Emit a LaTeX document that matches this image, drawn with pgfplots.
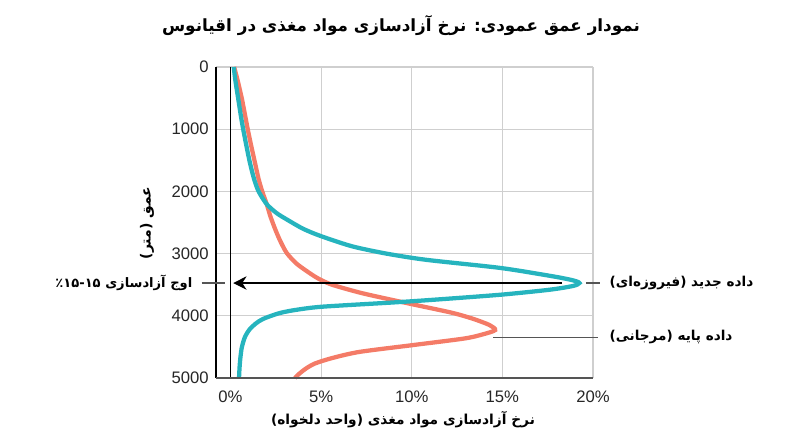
\documentclass[border=0pt]{standalone}
\usepackage{fontspec}
\setmainfont{Liberation Sans}
\newfontfamily\fa[Script=Arabic]{DejaVu Sans}
\usepackage{pgfplots}
\pgfplotsset{compat=1.18}
\usetikzlibrary{arrows.meta}
\TeXXeTstate=1
\definecolor{tealc}{HTML}{26B4BE}
\definecolor{coral}{HTML}{F47B67}
\definecolor{gridc}{HTML}{CFCFCF}
\definecolor{axc}{HTML}{555555}

\pgfplotstableread{
d x
0 0.18
200 0.26
500 0.42
800 0.58
1000 0.70
1300 0.90
1550 1.08
1800 1.30
2000 1.55
2206 2.0
2350 2.55
2450 3.1
2600 4.0
2720 5.0
2882 6.7
3000 8.6
3100 10.8
3231 14.9
3366 17.8
3430 18.9
3473 19.25
3520 18.9
3581 17.6
3661 14.9
3742 11.2
3785 9.0
3855 5.0
3910 3.5
3961 2.65
4050 1.8
4123 1.40
4220 1.05
4339 0.80
4500 0.63
4661 0.55
4830 0.50
5000 0.47
}\teal

\pgfplotstableread{
d x
0 0.2
200 0.38
500 0.62
800 0.82
1000 0.95
1250 1.13
1500 1.32
1800 1.55
2000 1.75
2206 2.0
2400 2.2
2611 2.47
2800 2.75
2989 3.1
3150 3.6
3260 4.1
3394 4.8
3500 5.6
3639 7.3
3800 9.8
3950 12.2
4050 13.4
4150 14.3
4230 14.6
4300 13.9
4365 12.9
4473 10.0
4581 7.1
4680 5.6
4768 4.65
4850 4.15
4930 3.8
5000 3.55
}\coral

\begin{document}
\begin{tikzpicture}[x=0.75pt,y=0.75pt]
\path[use as bounding box] (0,0) rectangle (800,447);
\begin{axis}[at={(162pt,51.75pt)}, anchor=south west,
  width=282.75pt, height=233.25pt, scale only axis,
  xmin=-0.8, xmax=20, ymin=0, ymax=5000, y dir=reverse,
  xtick={0,5,10,15,20}, ytick={0,1000,2000,3000,4000,5000},
  xticklabel={\pgfmathprintnumber{\tick}\%},
  /pgf/number format/assume math mode=true,
  /pgf/number format/set thousands separator={},
  tick label style={font=\fontsize{12.5}{15}\selectfont, text=black!85},
  yticklabel style={xshift=-2pt},
  xticklabel style={yshift=-6pt},
  major tick length=0pt,
  grid=major,
  grid style={gridc, line width=0.8pt},
  axis line style={draw=none},
  clip=false,
]
\addplot[coral, line width=3.2pt, smooth, tension=0.45] table[x=x,y=d] {\coral};
\addplot[tealc, line width=3.2pt, smooth, tension=0.45] table[x=x,y=d] {\teal};
\draw[black, line width=0.8pt] (axis cs:0,0) -- (axis cs:0,5000);
\draw[black, line width=0.8pt] (axis cs:-0.8,0) -- (axis cs:-0.8,5000);
\draw[axc, line width=1.6pt] (axis cs:-0.8,5000) -- (axis cs:20,5000);
\draw[black, line width=0.8pt, -{Stealth[length=10pt,width=10pt]}] (axis cs:18.3,3473) -- (axis cs:0.15,3473);
\draw[axc, line width=0.8pt] (axis cs:19.6,3473) -- (axis cs:20.4,3473);
\draw[axc, line width=0.8pt] (axis cs:-1.6,3473) -- (axis cs:-0.3,3473);
\draw[axc, line width=0.8pt] (axis cs:14.5,4350) -- (axis cs:20.3,4350);
\end{axis}
\node[font=\fa\bfseries\fontsize{12.6}{15}\selectfont] at (401,421) {\beginR نمودار عمق عمودی: نرخ آزادسازی مواد مغذی در اقیانوس\endR};
\node[font=\fa\bfseries\fontsize{10.3}{13}\selectfont] at (403,27) {\beginR نرخ آزادسازی مواد مغذی (واحد دلخواه)\endR};
\node[font=\fa\bfseries\fontsize{10.5}{13}\selectfont, rotate=90] at (147,224) {\beginR عمق (متر)\endR};
\node[font=\fa\bfseries\fontsize{9.8}{12}\selectfont, anchor=east] at (197,164) {\beginR اوج آزادسازی ٪۱۵-۱۵\endR};
\node[font=\fa\bfseries\fontsize{10.2}{12}\selectfont, anchor=west] at (605,164) {\beginR داده جدید (فیروزه‌ای)\endR};
\node[font=\fa\bfseries\fontsize{10.2}{12}\selectfont, anchor=west] at (605,110) {\beginR داده پایه (مرجانی)\endR};
\end{tikzpicture}
\end{document}
